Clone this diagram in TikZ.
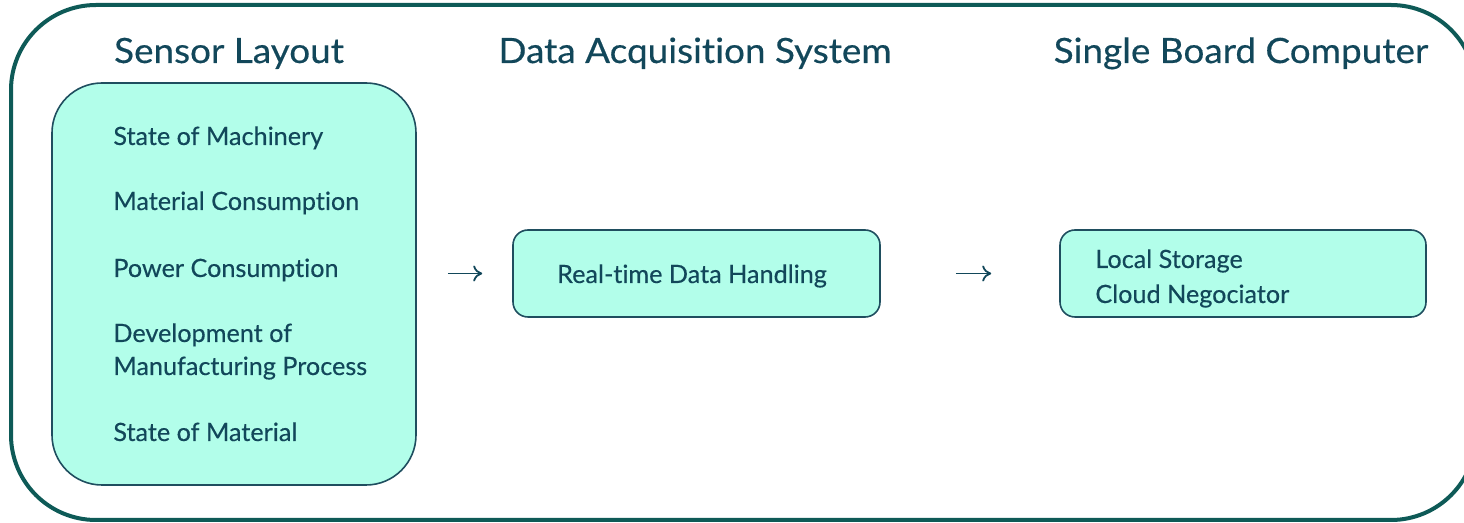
\documentclass[tikz,border=0pt]{standalone}
\usepackage{fontspec}
\setmainfont{Lato}[Ligatures={NoCommon}, FakeBold=0.3]
\newfontfamily\titlefont{Lato}[Ligatures={NoCommon}, FakeStretch=1.06, FakeBold=0.4]
\usetikzlibrary{arrows.meta}
\definecolor{outerc}{HTML}{0E5A57}
\definecolor{txtc}{HTML}{12475A}
\definecolor{boxfill}{HTML}{B2FEEA}
\definecolor{boxline}{HTML}{1F4E5F}
\tikzset{
  title/.style={anchor=base, text=txtc, font=\titlefont\fontsize{17.4}{20}\selectfont, inner sep=0pt},
  item/.style={anchor=base west, text=txtc, font=\fontsize{12.6}{15}\selectfont, inner sep=0pt},
  bigbox/.style={draw=boxline, fill=boxfill, line width=0.8pt, rounded corners=25pt},
  smallbox/.style={draw=boxline, fill=boxfill, line width=0.8pt, rounded corners=7.5pt},
  flow/.style={draw=txtc, line width=0.9pt, -{To[length=4.5pt,width=8pt]}}
}
\begin{document}
\begin{tikzpicture}[x=0.5pt,y=-0.5pt]
\useasboundingbox (0,0) rectangle (1464,523);
\begin{scope}
\clip (0,0) rectangle (1464,523);
\draw[draw=outerc, line width=2pt, rounded corners=42.5pt] (11,5) rectangle (1476,520);
\end{scope}
% titles
\node[title] (t1) at (229,63) {Sensor Layout};
\node[title] (t2) at (695,63) {Data Acquisition System};
\node[title] (t3) at (1241,63) {Single Board Computer};
% boxes
\node[bigbox, minimum width=182pt, minimum height=201pt] (sensor) at (234,284) {};
\node[smallbox, minimum width=183.5pt, minimum height=43.5pt] (daq) at (696.5,273.5) {};
\node[smallbox, minimum width=183pt, minimum height=43.5pt] (sbc) at (1243,273.5) {};
% sensor items
\node[item] (s1) at (113,145) {State of Machinery};
\node[item] (s2) at (113,210) {Material Consumption};
\node[item] (s3) at (113,277) {Power Consumption};
\node[item] (s4) at (113,342) {Development of};
\node[item] (s5) at (113,375) {Manufacturing Process};
\node[item] (s6) at (113,441) {State of Material};
% daq text
\node[item, anchor=base] (d1) at (692,283) {Real-time Data Handling};
% sbc text
\node[item] (c1) at (1095,268) {Local Storage};
\node[item] (c2) at (1095,303) {Cloud Negociator};
% arrows
\draw[flow, shorten <=15.5pt, shorten >=15pt] (sensor.east |- daq.west) -- (daq.west);
\draw[flow, shorten <=37.5pt, shorten >=34pt] (daq.east) -- (sbc.west);
\end{tikzpicture}
\end{document}
